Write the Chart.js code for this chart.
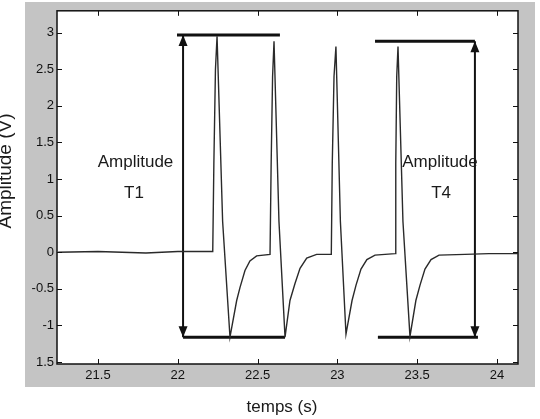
<!DOCTYPE html>
<html>
<head>
<meta charset="utf-8">
<script src="https://cdn.jsdelivr.net/npm/chart.js@4.4.1/dist/chart.umd.min.js"></script>
<style>
  html, body { margin: 0; padding: 0; background: #fff; }
  #wrap { width: 540px; height: 419px; }
</style>
</head>
<body>
<div id="wrap"><canvas id="chart-signal" width="540" height="419"></canvas></div>
<script>
// signal (time in s, amplitude in V)
const sigT = [21.25, 21.5, 21.8, 22.0, 22.219,
  22.226, 22.236, 22.246, 22.281, 22.327, 22.369, 22.39, 22.421, 22.452, 22.494, 22.578,
  22.585, 22.594, 22.603, 22.634, 22.672, 22.703, 22.734, 22.766, 22.808, 22.87, 22.962,
  22.968, 22.979, 22.991, 23.019, 23.054, 23.092, 23.117, 23.148, 23.185, 23.236, 23.362,
  23.366, 23.372, 23.38, 23.411, 23.455, 23.492, 23.518, 23.549, 23.587, 23.637, 23.8, 23.95, 24.13];
const sigV = [0, 0.01, -0.01, 0.01, 0.01,
  1.2, 2.5, 2.95, 0.42, -1.16, -0.66, -0.48, -0.25, -0.12, -0.05, -0.03,
  1.2, 2.4, 2.88, 0.42, -1.16, -0.66, -0.43, -0.22, -0.08, -0.03, -0.03,
  1.2, 2.4, 2.81, 0.42, -1.12, -0.66, -0.45, -0.23, -0.1, -0.04, -0.02,
  1.2, 2.4, 2.81, 0.42, -1.15, -0.66, -0.45, -0.23, -0.1, -0.04, -0.03, -0.02, -0.02];

// annotation marks
const topLeftX = [21.995, 22.64], topLeftY = 2.965;
const arrowLeftX = 22.033, arrowLeftY = [2.965, -1.16];
const botLeftX = [22.033, 22.672], botLeftY = -1.16;
const topRightX = [23.236, 23.862], topRightY = 2.88;
const arrowRightX = 23.862, arrowRightY = [2.88, -1.16];
const botRightX = [23.254, 23.881], botRightY = -1.16;

const notes = [
  { text: "Amplitude", x: 21.735, y: 1.23 },
  { text: "T1", x: 21.725, y: 0.80 },
  { text: "Amplitude", x: 23.643, y: 1.23 },
  { text: "T4", x: 23.65, y: 0.80 },
];

// axes
const xTicks = [21.5, 22, 22.5, 23, 23.5, 24];
const xTickLabels = ["21.5", "22", "22.5", "23", "23.5", "24"];
const yTicks = [-1.5, -1, -0.5, 0, 0.5, 1, 1.5, 2, 2.5, 3];
const yTickLabels = ["1.5", "-1", "-0.5", "0", "0.5", "1", "1.5", "2", "2.5", "3"];
const xTitle = "temps (s)";
const yTitle = "Amplitude (V)";

const FONT = "'Liberation Sans', Arial, sans-serif";

const seg = (xs, ys) => xs.map((x, i) => ({ x: x, y: Array.isArray(ys) ? ys[i] : ys }));

const lineSet = (data, width) => ({
  data: data,
  borderColor: "#111",
  borderWidth: width,
  pointRadius: 0,
  showLine: true,
  tension: 0,
});

// scanned gray frame + white plot area, box, inward ticks, arrowheads and texts
const scanLook = {
  id: "scanLook",
  beforeDraw(chart) {
    const { ctx, chartArea: a } = chart;
    ctx.save();
    ctx.fillStyle = "#c4c4c4";
    ctx.fillRect(25, 2, 510, 385);
    ctx.fillStyle = "#fff";
    ctx.fillRect(a.left, a.top, a.right - a.left, a.bottom - a.top);
    ctx.restore();
  },
  afterDatasetsDraw(chart) {
    const { ctx, chartArea: a, scales } = chart;
    const xs = scales.x, ys = scales.y;
    ctx.save();
    ctx.strokeStyle = "#111";
    ctx.lineWidth = 1.5;
    ctx.strokeRect(a.left, a.top, a.right - a.left, a.bottom - a.top);
    ctx.lineWidth = 1;
    ctx.beginPath();
    xTicks.forEach(v => {
      const px = Math.round(xs.getPixelForValue(v)) + 0.5;
      ctx.moveTo(px, a.bottom); ctx.lineTo(px, a.bottom - 5);
      ctx.moveTo(px, a.top); ctx.lineTo(px, a.top + 5);
    });
    yTicks.forEach(v => {
      const py = Math.round(ys.getPixelForValue(v)) + 0.5;
      ctx.moveTo(a.left, py); ctx.lineTo(a.left + 5, py);
      ctx.moveTo(a.right, py); ctx.lineTo(a.right - 5, py);
    });
    ctx.stroke();

    // arrowheads at both ends of the vertical arrows
    ctx.fillStyle = "#111";
    const head = (x, y, dir) => {
      const px = xs.getPixelForValue(x), py = ys.getPixelForValue(y);
      ctx.beginPath();
      ctx.moveTo(px, py);
      ctx.lineTo(px - 4.5, py - dir * 11);
      ctx.lineTo(px + 4.5, py - dir * 11);
      ctx.closePath();
      ctx.fill();
    };
    head(arrowLeftX, arrowLeftY[0], -1);
    head(arrowLeftX, arrowLeftY[1], 1);
    head(arrowRightX, arrowRightY[0], -1);
    head(arrowRightX, arrowRightY[1], 1);

    ctx.fillStyle = "#1a1a1a";
    ctx.font = "17px " + FONT;
    ctx.textAlign = "center";
    ctx.textBaseline = "middle";
    notes.forEach(n => ctx.fillText(n.text, xs.getPixelForValue(n.x), ys.getPixelForValue(n.y)));

    ctx.fillText(xTitle, 282, 407);
    ctx.font = "19px " + FONT;
    ctx.translate(11, 171);
    ctx.rotate(-Math.PI / 2);
    ctx.textBaseline = "alphabetic";
    ctx.fillText(yTitle, 0, 0);
    ctx.restore();
  },
};

new Chart(document.getElementById("chart-signal").getContext("2d"), {
  type: "scatter",
  data: {
    datasets: [
      {
        data: seg(sigT, sigV),
        borderColor: "#2a2a2a",
        borderWidth: 1.4,
        pointRadius: 0,
        showLine: true,
        tension: 0,
      },
      lineSet(seg(topLeftX, topLeftY), 3),
      lineSet(seg([arrowLeftX, arrowLeftX], arrowLeftY), 2),
      lineSet(seg(botLeftX, botLeftY), 3),
      lineSet(seg(topRightX, topRightY), 3),
      lineSet(seg([arrowRightX, arrowRightX], arrowRightY), 2),
      lineSet(seg(botRightX, botRightY), 3),
    ],
  },
  options: {
    responsive: false,
    animation: false,
    layout: { padding: { top: 7, right: 22, left: 0, bottom: 0 } },
    plugins: {
      legend: { display: false },
      tooltip: { enabled: false },
    },
    scales: {
      x: {
        type: "linear",
        min: 21.243,
        max: 24.132,
        afterFit: s => { s.height = 55; },
        afterBuildTicks: s => { s.ticks = xTicks.map(v => ({ value: v })); },
        grid: { display: false, drawTicks: false },
        border: { display: false },
        ticks: {
          padding: 4,
          maxRotation: 0,
          autoSkip: false,
          color: "#111",
          font: { size: 13, family: FONT },
          callback: v => xTickLabels[xTicks.indexOf(v)],
        },
      },
      y: {
        type: "linear",
        min: -1.527,
        max: 3.297,
        afterFit: s => { s.width = 57; },
        afterBuildTicks: s => { s.ticks = yTicks.map(v => ({ value: v })); },
        grid: { display: false, drawTicks: false },
        border: { display: false },
        ticks: {
          padding: 3,
          autoSkip: false,
          color: "#111",
          font: { size: 13, family: FONT },
          callback: v => yTickLabels[yTicks.indexOf(v)],
        },
      },
    },
  },
  plugins: [scanLook],
});
</script>
</body>
</html>
